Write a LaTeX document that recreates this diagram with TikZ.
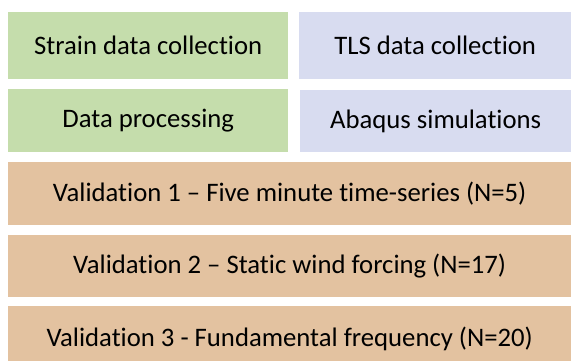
\documentclass[tikz,border=0pt]{standalone}
\usepackage{fontspec}
\setmainfont{Carlito}[Ligatures=CommonOff]
\definecolor{boxgreen}{HTML}{C5DDAC}
\definecolor{boxblue}{HTML}{D8DCF0}
\definecolor{boxorange}{HTML}{E3C2A0}
\tikzset{
    stage/.style={anchor=north west, inner sep=0pt, font=\fontsize{26.7}{30}\selectfont},
}
\begin{document}
\begin{tikzpicture}[x=1pt,y=-1pt]
    \useasboundingbox (0,0) rectangle (571,360);
    \begin{scope}
    \clip (0,0) rectangle (571,360);
    \node[stage, fill=boxgreen, minimum width=280pt, minimum height=67pt] (strain) at (8,12) {Strain data collection};
    \node[stage, fill=boxblue, minimum width=272pt, minimum height=67pt] (tls) at (299,12) {TLS data collection};
    \node[stage, fill=boxgreen, minimum width=280pt, minimum height=63pt] (proc) at (8,89) {Data processing};
    \node[stage, fill=boxblue, minimum width=271pt, minimum height=62pt] (abaqus) at (300,90) {Abaqus simulations};
    \node[stage, fill=boxorange, minimum width=563pt, minimum height=63pt] (valone) at (8,162) {Validation 1 -- Five minute time-series (N=5)};
    \node[stage, fill=boxorange, minimum width=563pt, minimum height=62pt] (valtwo) at (8,235) {Validation 2 -- Static wind forcing (N=17)};
    \node[stage, fill=boxorange, minimum width=563pt, minimum height=65pt] (valthree) at (8,306) {Validation 3 - Fundamental frequency (N=20)};
    \end{scope}
\end{tikzpicture}
\end{document}
